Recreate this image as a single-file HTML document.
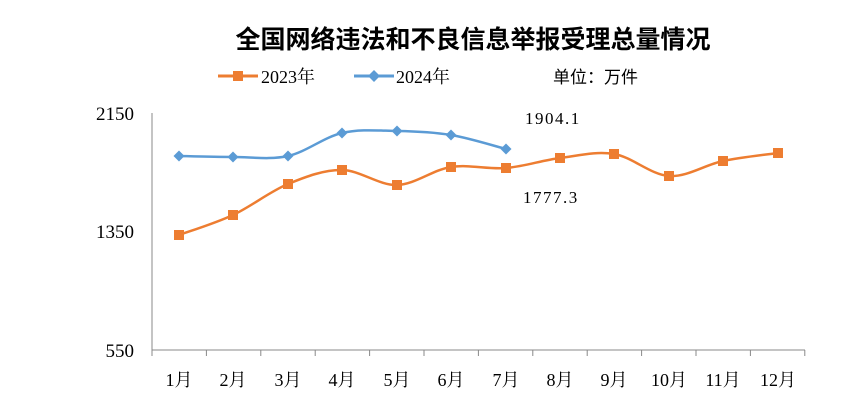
<!DOCTYPE html>
<html><head><meta charset="utf-8"><style>
body{margin:0;background:#fff;}
svg{display:block;font-family:"Liberation Serif","Noto Serif CJK SC",serif;}
</style></head><body>
<svg width="868" height="418" viewBox="0 0 868 418" xmlns="http://www.w3.org/2000/svg">
<rect width="868" height="418" fill="#fff"/>
<text x="473" y="48" text-anchor="middle" font-family="Liberation Sans,'Noto Sans CJK SC',sans-serif" font-weight="bold" font-size="25" fill="#000">全国网络违法和不良信息举报受理总量情况</text>
<line x1="218" y1="76" x2="258" y2="76" stroke="#ED7D31" stroke-width="3"/>
<rect x="233" y="71" width="10" height="10" fill="#ED7D31"/>
<text x="261" y="83" font-size="18">2023年</text>
<line x1="354" y1="76" x2="394" y2="76" stroke="#5B9BD5" stroke-width="3"/>
<path d="M374 70 L380 76 L374 82 L368 76Z" fill="#5B9BD5"/>
<text x="396" y="83" font-size="18">2024年</text>
<text x="553" y="83" font-size="17" font-family="Liberation Sans,'Noto Sans CJK SC',sans-serif">单位：万件</text>
<g font-size="19" text-anchor="end">
<text x="134" y="120">2150</text>
<text x="134" y="238">1350</text>
<text x="134" y="357">550</text>
</g>
<line x1="152" y1="113" x2="152" y2="350" stroke="#888"/>
<line x1="152" y1="350" x2="805" y2="350" stroke="#888"/>
<g stroke="#888">
<line x1="152" y1="350" x2="152" y2="356"/><line x1="206.4" y1="350" x2="206.4" y2="356"/><line x1="260.8" y1="350" x2="260.8" y2="356"/><line x1="315.2" y1="350" x2="315.2" y2="356"/><line x1="369.6" y1="350" x2="369.6" y2="356"/><line x1="424" y1="350" x2="424" y2="356"/><line x1="478.4" y1="350" x2="478.4" y2="356"/><line x1="532.8" y1="350" x2="532.8" y2="356"/><line x1="587.2" y1="350" x2="587.2" y2="356"/><line x1="641.6" y1="350" x2="641.6" y2="356"/><line x1="696" y1="350" x2="696" y2="356"/><line x1="750.4" y1="350" x2="750.4" y2="356"/><line x1="804.8" y1="350" x2="804.8" y2="356"/>
</g>
<g font-size="18" text-anchor="middle">
<text x="179" y="386">1月</text><text x="233" y="386">2月</text><text x="288" y="386">3月</text><text x="342" y="386">4月</text><text x="397" y="386">5月</text><text x="451" y="386">6月</text><text x="506" y="386">7月</text><text x="560" y="386">8月</text><text x="614" y="386">9月</text><text x="669" y="386">10月</text><text x="723" y="386">11月</text><text x="778" y="386">12月</text>
</g>
<path fill="none" stroke="#ED7D31" stroke-width="2.5" d="M179,235 C188,231.7 214.8,223.5 233,215 C251.2,206.5 269.8,191.5 288,184 C306.2,176.5 323.8,169.8 342,170 C360.2,170.2 378.8,185.5 397,185 C415.2,184.5 432.8,169.8 451,167 C469.2,164.2 487.8,169.5 506,168 C524.2,166.5 542,160.3 560,158 C578,155.7 595.8,151 614,154 C632.2,157 650.8,174.8 669,176 C687.2,177.2 704.8,164.8 723,161 C741.2,157.2 768.8,154.3 778,153"/>
<path fill="none" stroke="#5B9BD5" stroke-width="2.5" d="M179,156 C188,156.2 214.8,157 233,157 C251.2,157 269.8,160 288,156 C306.2,152 323.8,137.2 342,133 C360.2,128.8 378.8,130.7 397,131 C415.2,131.3 432.8,132 451,135 C469.2,138 496.8,146.7 506,149"/>
<g fill="#ED7D31">
<rect x="174" y="230" width="10" height="10"/><rect x="228" y="210" width="10" height="10"/><rect x="283" y="179" width="10" height="10"/><rect x="337" y="165" width="10" height="10"/><rect x="392" y="180" width="10" height="10"/><rect x="446" y="162" width="10" height="10"/><rect x="501" y="163" width="10" height="10"/><rect x="555" y="153" width="10" height="10"/><rect x="609" y="149" width="10" height="10"/><rect x="664" y="171" width="10" height="10"/><rect x="718" y="156" width="10" height="10"/><rect x="773" y="148" width="10" height="10"/>
</g>
<g fill="#5B9BD5">
<path d="M179 150.5 L184.5 156 L179 161.5 L173.5 156Z"/>
<path d="M233 151.5 L238.5 157 L233 162.5 L227.5 157Z"/>
<path d="M288 150.5 L293.5 156 L288 161.5 L282.5 156Z"/>
<path d="M342 127.5 L347.5 133 L342 138.5 L336.5 133Z"/>
<path d="M397 125.5 L402.5 131 L397 136.5 L391.5 131Z"/>
<path d="M451 129.5 L456.5 135 L451 140.5 L445.5 135Z"/>
<path d="M506 143.5 L511.5 149 L506 154.5 L500.5 149Z"/>
</g>
<text x="525" y="124" font-size="17" letter-spacing="1.5">1904.1</text>
<text x="523" y="203" font-size="17" letter-spacing="1.5">1777.3</text>
</svg>
</body></html>
